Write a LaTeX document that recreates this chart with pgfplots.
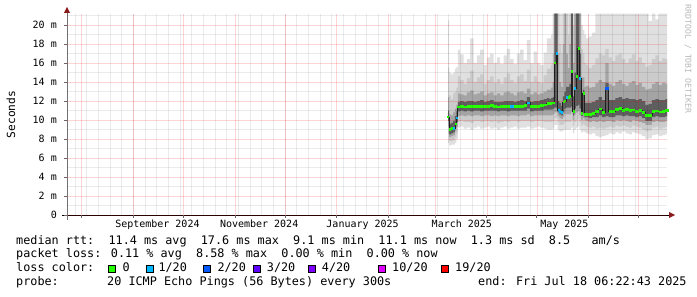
\documentclass[border=0pt]{standalone}
\usepackage{fontspec}
\setmainfont{DejaVu Sans Mono}
\usepackage{pgfplots}
\pgfplotsset{compat=1.18}
\usepackage{pgfplotstable}
\usepgfplotslibrary{fillbetween}
\definecolor{smA}{HTML}{E0E0E0}
\definecolor{smB}{HTML}{CBCBCB}
\definecolor{smC}{HTML}{A4A4A4}
\definecolor{smD}{HTML}{5E5E5E}
\definecolor{lg}{HTML}{26FF00}
\definecolor{lb1}{HTML}{00B8FF}
\definecolor{lb2}{HTML}{0059FF}
\definecolor{lp3}{HTML}{5E00FF}
\definecolor{lp4}{HTML}{7E00FF}
\definecolor{lm10}{HTML}{DD00FF}
\definecolor{lr19}{HTML}{FF0000}
\definecolor{arr}{HTML}{8B1A1A}
\newcommand\lgfont{\fontsize{11.8bp}{13bp}\selectfont}
\newcommand\tkfont{\fontsize{10bp}{11bp}\selectfont}
\newcommand\wmfont{\fontsize{8.2bp}{9bp}\selectfont}

% d = days since 1 Aug 2024; med = median rtt (ms); a/b = lower/upper edges of smoke bands
\pgfplotstableread{
d med a1 b1 a2 b2 a3 b3 a4 b4
219.8 10.3 7.6 20.5 8.6 15.5 9.3 12.4 9.9 11.0
221.0 9.0 7.3 15.0 7.8 12.6 8.2 10.6 8.5 9.6
222.2 9.1 7.4 14.8 7.8 12.2 8.3 10.5 8.6 9.7
223.4 9.1 7.4 15.0 7.9 12.8 8.4 10.8 8.7 9.9
224.4 9.6 7.6 15.4 8.2 13.0 8.8 11.2 9.2 10.4
225.2 10.2 8.0 15.6 8.6 13.4 9.3 11.6 9.8 10.9
226 11.35 9.2 17.4 9.8 14.6 10.4 12.8 10.9 11.9
228 11.40 9.3 16.9 9.9 14.2 10.5 12.7 11.0 12.0
230 11.35 9.1 16.0 9.8 13.8 10.4 12.6 10.9 11.9
232 11.40 9.2 16.4 9.8 14.4 10.5 12.9 11.0 12.0
234 11.40 9.0 18.6 9.7 15.2 10.4 13.1 10.9 12.0
236 11.40 9.2 16.0 9.9 14.0 10.5 12.7 11.0 11.9
238 11.40 9.3 16.8 9.9 14.5 10.5 12.8 11.0 12.0
240 11.45 9.1 17.4 9.8 14.8 10.4 13.0 10.9 12.1
242 11.40 9.2 15.8 9.9 13.8 10.5 12.6 11.0 11.9
244 11.45 9.3 16.6 9.9 14.2 10.5 12.8 11.0 12.0
246 11.50 9.1 17.0 9.8 14.6 10.4 12.9 11.0 12.1
248 11.40 9.2 16.0 9.9 13.9 10.5 12.6 11.0 11.9
250 11.35 9.0 16.6 9.7 14.3 10.4 12.8 10.9 11.9
252 11.40 9.2 15.9 9.8 13.8 10.5 12.6 11.0 11.9
254 11.40 9.3 16.8 9.9 14.5 10.5 12.9 11.0 12.0
256 11.40 9.1 17.5 9.8 14.9 10.4 13.0 10.9 12.0
258 11.45 9.2 16.4 9.9 14.2 10.5 12.8 11.0 12.0
260 11.40 9.3 15.9 9.9 13.9 10.5 12.6 11.0 11.9
262 11.45 9.1 17.0 9.8 14.6 10.4 12.9 11.0 12.0
264 11.45 9.2 17.4 9.9 14.8 10.5 13.0 11.0 12.1
266 11.50 9.2 16.3 9.9 14.1 10.5 12.8 11.0 12.0
268 11.80 9.3 18.4 9.9 15.3 10.6 13.3 11.2 12.4
270 11.40 9.1 16.0 9.8 14.0 10.4 12.7 10.9 11.9
272 11.40 9.2 17.2 9.9 14.6 10.5 12.9 11.0 12.0
274 11.45 9.3 16.0 9.9 14.0 10.5 12.7 11.0 12.0
276 11.50 9.2 15.8 9.9 13.9 10.5 12.8 11.0 12.1
278 11.60 9.1 17.1 9.8 14.7 10.5 13.0 11.1 12.2
280 11.75 9.0 18.6 9.8 15.4 10.5 13.2 11.1 12.3
281 11.75 9.0 18.6 9.8 15.4 10.5 13.2 11.1 12.2
282 11.80 9.0 19.0 9.8 15.8 10.5 13.4 11.1 12.3
283 11.80 9.1 21.2 9.9 17.0 10.6 14.0 11.2 12.4
284 16.00 9.5 21.2 10.2 21.2 10.8 21.2 11.3 21.2
285 17.00 9.5 21.2 10.2 21.2 10.8 21.2 11.3 21.2
286 11.05 9.0 21.2 9.8 21.2 10.4 17.0 10.8 12.0
287 10.90 8.8 21.2 9.5 18.0 10.2 14.0 10.6 11.8
288 10.80 8.8 21.2 9.5 17.0 10.1 13.5 10.5 11.5
289 11.90 8.9 21.2 9.6 21.2 10.3 18.0 10.8 12.5
290 12.00 9.0 21.2 9.8 21.2 10.6 21.2 11.2 13.0
291 12.40 9.0 21.2 9.8 21.2 10.6 17.0 11.3 13.5
292 12.40 9.0 21.2 9.8 19.0 10.6 15.5 11.3 13.5
293 12.50 9.0 21.2 9.8 21.2 10.6 18.0 11.3 13.8
294 15.10 9.2 21.2 10.0 21.2 10.8 21.2 11.4 21.2
295 10.90 8.6 21.2 9.4 20.0 10.0 16.0 10.5 12.5
296 13.30 9.0 21.2 9.8 21.2 10.6 21.2 11.2 15.0
297 14.60 9.2 21.2 10.0 21.2 10.8 21.2 11.5 21.2
298 17.50 9.3 21.2 10.1 21.2 10.9 21.2 11.6 21.2
299 14.40 9.0 21.2 9.8 21.2 10.5 21.2 11.2 17.0
300 10.70 8.7 20.0 9.4 17.5 10.0 14.5 10.4 12.0
301 12.80 8.8 19.5 9.6 17.0 10.2 14.5 10.7 13.2
302 10.60 8.7 19.0 9.4 16.0 10.0 13.5 10.3 11.8
303 10.60 8.6 18.6 9.3 15.8 9.9 13.6 10.3 11.8
305 10.60 8.5 18.8 9.2 15.5 9.8 13.4 10.2 11.8
307 10.70 8.6 19.2 9.3 15.8 9.9 13.5 10.3 11.9
309 10.90 8.3 21.2 9.1 16.5 9.8 13.9 10.3 12.1
311 11.15 8.2 21.2 9.2 17.0 9.9 14.2 10.5 12.4
313 10.80 8.3 21.2 9.1 16.8 9.8 14.0 10.3 12.1
315 13.30 8.4 21.2 9.2 17.5 9.9 16.0 10.4 13.9
317 10.90 8.6 21.2 9.3 16.6 9.9 13.8 10.3 12.1
319 10.90 8.5 21.2 9.2 16.2 9.8 13.6 10.3 12.1
321 11.10 8.7 21.2 9.4 16.8 10.0 14.0 10.5 12.3
323 11.20 8.6 21.2 9.3 17.0 9.9 14.2 10.5 12.4
325 11.00 8.8 21.2 9.4 16.4 10.0 13.8 10.4 12.2
327 11.10 8.6 21.2 9.3 16.0 9.9 13.6 10.5 12.3
329 11.00 8.5 21.2 9.2 16.5 9.8 13.9 10.4 12.2
331 11.05 8.7 21.2 9.4 16.9 10.0 14.1 10.4 12.2
333 10.90 8.6 21.2 9.3 16.2 9.9 13.7 10.3 12.1
335 11.00 8.5 21.2 9.2 16.6 9.8 13.9 10.4 12.2
337 10.80 8.3 21.2 9.0 16.0 9.7 13.5 10.2 12.0
339 10.45 8.0 21.2 8.8 15.6 9.5 13.2 9.9 11.6
341 10.45 8.1 20.4 8.9 15.8 9.5 13.3 9.9 11.7
343 10.90 8.4 21.2 9.2 16.4 9.8 13.8 10.3 12.1
345 10.95 8.5 20.6 9.3 16.8 9.9 14.0 10.4 12.2
347 10.85 8.3 21.2 9.1 16.2 9.8 13.7 10.3 12.1
349 10.90 8.4 21.2 9.2 16.5 9.8 13.9 10.3 12.1
351 11.00 8.5 21.2 9.3 16.4 9.9 13.8 10.4 12.2
}\smoke

% medians with 1/20 loss
\pgfplotstableread{
d med
223.4 9.1
225.2 10.2
258 11.45
268 11.8
285 17.0
286 11.05
287 10.9
288 10.8
291 12.4
296 13.3
299 14.4
}\blueA
% medians with 2/20 loss
\pgfplotstableread{
d med
315 13.3
}\blueB

\begin{document}
\begin{tikzpicture}
\begin{axis}[
  at={(0,0)}, anchor=south west,
  scale only axis, width=600bp, height=201bp,
  xmin=-8.7, xmax=351, ymin=0, ymax=21.16,
  axis on top,
  axis line style={draw=none},
  tick pos=left, tick align=outside,
  major tick length=3bp, minor tick length=0pt,
  tick style={black!60, line width=0.8bp},
  xtick={0,31,61,92,122,153,184,212,243,273,304,334},
  xticklabels={},
  minor xtick={-4,3,...,346},
  extra x ticks={45.5,106.5,168.5,228,289.5},
  extra x tick labels={September 2024,November 2024,January 2025,March 2025,May 2025},
  extra x tick style={grid=none, major tick length=0pt},
  ytick={0,2,...,20},
  yticklabels={0,2 m,4 m,6 m,8 m,10 m,12 m,14 m,16 m,18 m,20 m},
  minor ytick={1,3,...,21},
  grid=both,
  major grid style={draw=red, draw opacity=0.17, line width=0.6bp},
  minor grid style={draw=black, draw opacity=0.08, line width=0.6bp},
  x tick label style={font=\tkfont, anchor=base, inner sep=0pt, yshift=-12.7bp},
  y tick label style={font=\tkfont, anchor=east, inner sep=0pt, xshift=-7bp},
  every axis y label/.style={at={(rel axis cs:0,0.5)}, rotate=90, anchor=center, yshift=56bp, font=\fontsize{11.2bp}{12bp}\selectfont},
  ylabel={Seconds},
  smk/.style={const plot mark mid, draw=none, forget plot},
]
\addplot[smk, name path=A1] table[x=d,y=a1]{\smoke};
\addplot[smk, name path=B1] table[x=d,y=b1]{\smoke};
\addplot[smk, name path=A2] table[x=d,y=a2]{\smoke};
\addplot[smk, name path=B2] table[x=d,y=b2]{\smoke};
\addplot[smk, name path=A3] table[x=d,y=a3]{\smoke};
\addplot[smk, name path=B3] table[x=d,y=b3]{\smoke};
\addplot[smk, name path=A4] table[x=d,y=a4]{\smoke};
\addplot[smk, name path=B4] table[x=d,y=b4]{\smoke};
\addplot[fill=smA, draw=none] fill between[of=B1 and A1];
\addplot[fill=smB, draw=none] fill between[of=B2 and A2];
\addplot[fill=smC, draw=none] fill between[of=B3 and A3];
\addplot[fill=smD, draw=none] fill between[of=B4 and A4];
% median line
\addplot[const plot mark mid, draw=black!88, line width=0.9bp, mark=none] table[x=d,y=med]{\smoke};
% loss-coloured median
\addplot[only marks, mark=-, mark size=1.0bp, mark options={draw=lg, line width=2.6bp}, restrict x to domain=0:225.6] table[x=d,y=med]{\smoke};
\addplot[only marks, mark=-, mark size=1.7bp, mark options={draw=lg, line width=2.6bp}, restrict x to domain=225.6:282.5] table[x=d,y=med]{\smoke};
\addplot[only marks, mark=-, mark size=1.0bp, mark options={draw=lg, line width=2.6bp}, restrict x to domain=282.5:302.5] table[x=d,y=med]{\smoke};
\addplot[only marks, mark=-, mark size=1.7bp, mark options={draw=lg, line width=2.6bp}, restrict x to domain=302.5:400] table[x=d,y=med]{\smoke};
\addplot[only marks, mark=-, mark size=1.0bp, mark options={draw=lb1, line width=2.6bp}, restrict x to domain=0:225.6] table[x=d,y=med]{\blueA};
\addplot[only marks, mark=-, mark size=1.7bp, mark options={draw=lb1, line width=2.6bp}, restrict x to domain=225.6:282.5] table[x=d,y=med]{\blueA};
\addplot[only marks, mark=-, mark size=1.0bp, mark options={draw=lb1, line width=2.6bp}, restrict x to domain=282.5:302.5] table[x=d,y=med]{\blueA};
\addplot[only marks, mark=-, mark size=1.7bp, mark options={draw=lb2, line width=2.6bp}] table[x=d,y=med]{\blueB};
\end{axis}
% axes with arrows
\draw[black, line width=1bp] (-5bp,0) -- (603bp,0);
\fill[arr] (602bp,-3bp) -- (608bp,0) -- (602bp,3bp) -- cycle;
\draw[black!55, line width=1bp] (0,-5bp) -- (0,203bp);
\fill[arr] (-3bp,202bp) -- (0,208bp) -- (3bp,202bp) -- cycle;
% watermark
\node[rotate=-90, text=black!28, font=\wmfont, inner sep=0pt] at (621bp,156bp) {RRDTOOL / TOBI OETIKER};
% legend
\begin{scope}[every node/.style={inner sep=0pt, font=\lgfont}]
\node[anchor=base west] at (-51bp,-29bp) {median rtt:~~11.4 ms avg~~17.6 ms max~~9.1 ms min~~11.1 ms now~~1.3 ms sd~~8.5~~~am/s};
\node[anchor=base west] at (-51bp,-42.9bp) {packet loss: 0.11 \% avg~~8.58 \% max~~0.00 \% min~~0.00 \% now};
\node[anchor=base west] at (-51bp,-56.8bp) {loss color:};
\filldraw[fill=lg, draw=black, line width=0.8bp] (41.3bp,-57.3bp) rectangle ++(7bp,7bp);
\node[anchor=base west] at (55.5bp,-56.8bp) {0};
\filldraw[fill=lb1, draw=black, line width=0.8bp] (79.7bp,-57.3bp) rectangle ++(7bp,7bp);
\node[anchor=base west] at (91.3bp,-56.8bp) {1/20};
\filldraw[fill=lb2, draw=black, line width=0.8bp] (136bp,-57.3bp) rectangle ++(7bp,7bp);
\node[anchor=base west] at (150.3bp,-56.8bp) {2/20};
\filldraw[fill=lp3, draw=black, line width=0.8bp] (186.3bp,-57.3bp) rectangle ++(7bp,7bp);
\node[anchor=base west] at (199.7bp,-56.8bp) {3/20};
\filldraw[fill=lp4, draw=black, line width=0.8bp] (241bp,-57.3bp) rectangle ++(7bp,7bp);
\node[anchor=base west] at (254.7bp,-56.8bp) {4/20};
\filldraw[fill=lm10, draw=black, line width=0.8bp] (311bp,-57.3bp) rectangle ++(7bp,7bp);
\node[anchor=base west] at (325bp,-56.8bp) {10/20};
\filldraw[fill=lr19, draw=black, line width=0.8bp] (374.7bp,-57.3bp) rectangle ++(7bp,7bp);
\node[anchor=base west] at (388bp,-56.8bp) {19/20};
\node[anchor=base west] at (-51bp,-70.7bp) {probe:};
\node[anchor=base west] at (40bp,-70.7bp) {20 ICMP Echo Pings (56 Bytes) every 300s};
\node[anchor=base west] at (411bp,-70.7bp) {end: Fri Jul 18 06:22:43 2025};
\end{scope}
\pgfresetboundingbox
\useasboundingbox (-67bp,-82bp) rectangle (630bp,215bp);
\end{tikzpicture}
\end{document}
